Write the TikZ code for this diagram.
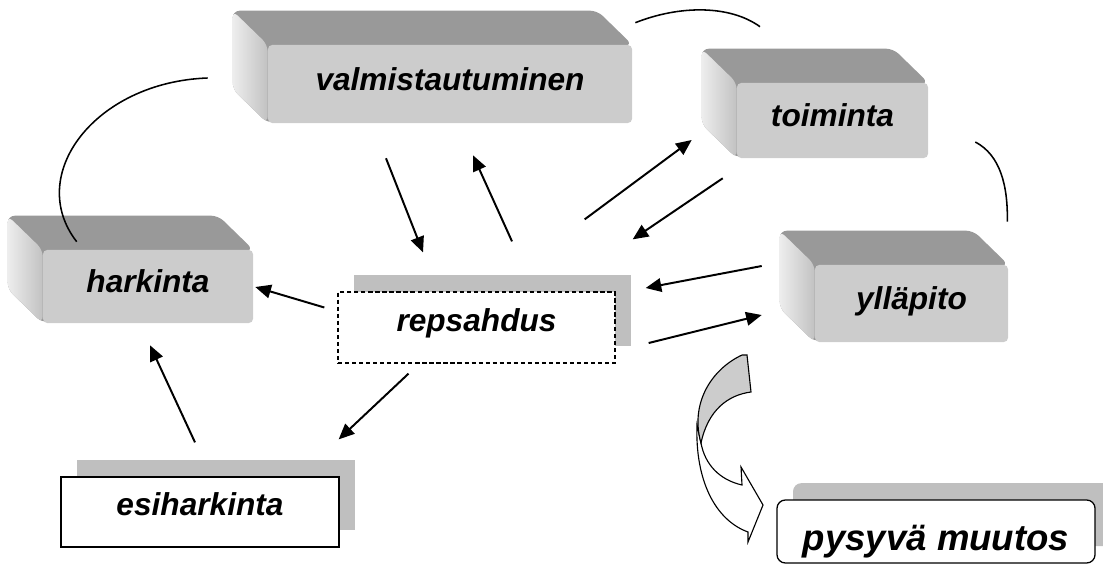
\documentclass[tikz,border=0pt]{standalone}
\usepackage{fontspec}
\setmainfont{Liberation Sans}
\usetikzlibrary{arrows.meta,calc,shadows,backgrounds}

\begin{document}
\begin{tikzpicture}[x=0.025cm, y=-0.025cm,
	stage/.style = {fill=black!20, rounded corners=3pt, inner sep=0pt, font=\bfseries\itshape\fontsize{22.5}{27}\selectfont, text height=16.2pt, text depth=7.2pt},
	flat/.style = {fill=white, draw=black, line width=0.9pt, inner sep=0pt, font=\bfseries\itshape\fontsize{22.5}{27}\selectfont, text height=15.3pt, text depth=9.7pt, drop shadow={shadow xshift=11.4pt, shadow yshift=12pt, fill=black!25, opacity=1}},
	arr/.style = {line width=1.4pt, -{Triangle[length=3.9mm, width=3.4mm]}},
	link/.style = {line width=1.1pt}]

	\useasboundingbox (0,0) rectangle (1103,565);

	\node[stage, minimum width=9.1cm, minimum height=1.95cm] (valm) at (450,84) {valmistautuminen};
	\node[stage, minimum width=4.775cm, minimum height=1.875cm] (toim) at (832.5,120.5) {toiminta};
	\node[stage, minimum width=5.25cm, minimum height=1.825cm] (hark) at (148,286.5) {harkinta};
	\node[stage, minimum width=4.825cm, minimum height=1.925cm] (yll) at (911.5,303.5) {ylläpito};

	\node[flat, dash pattern=on 3pt off 2pt, minimum width=6.925cm, minimum height=1.775cm] (rep) at (476.5,327.5) {repsahdus};
	\node[flat, minimum width=6.95cm, minimum height=1.75cm] (esi) at (200,512) {esiharkinta};
	\node[flat, rounded corners=6pt, minimum width=7.95cm, minimum height=1.575cm, font=\bfseries\itshape\fontsize{26}{31}\selectfont, text height=31.2pt, text depth=4.2pt] (pys) at (936,531.5) {pysyvä muutos};

	% sides of the blocks
	\begin{scope}[on background layer]
	\foreach \n in {valm,toim,hark,yll} {
		\fill[black!40, rounded corners=5pt] ($(\n.north west)+(-35,-34)$) -- ($(\n.north east)+(-35,-34)$) -- (\n.north east) -- (\n.south west) -- ($(\n.south west)+(-35,-34)$) -- cycle;
		\shade[left color=black!7, right color=black!24, rounded corners=5pt] ($(\n.north west)+(-35,-34)$) -- (\n.north west) -- (\n.south west) -- ($(\n.south west)+(-35,-34)$) -- cycle;
	}
	\end{scope}

	\draw[link] ($(valm.west)+(-60,-6)$) .. controls (95,82) and (25,175) .. ($(hark.north west)+(34,-8)$);
	\draw[link] ($(valm.north east)+(3,-22)$) .. controls (680,5) and (730,5) .. ($(toim.north)+(-72.5,-56)$);
	\draw[link] ($(toim.east)+(47,21.5)$) .. controls (1000,155) and (1008,185) .. ($(yll.north east)+(-1,-43)$);

	\draw[arr] ($(valm.south)+(-64,35)$) -- ($(rep.north)+(-53.5,-39)$);
	\draw[arr] ($(rep.north)+(35.5,-50)$) -- ($(valm.south)+(23,32)$);
	\draw[arr] ($(rep.north east)+(-31,-72)$) -- ($(toim.west)+(-45,19.5)$);
	\draw[arr] ($(toim.south west)+(-14,20)$) -- ($(rep.north east)+(17,-52)$);
	\draw[arr] ($(yll.west)+(-53,-37.5)$) -- ($(rep.east)+(30,-39.5)$);
	\draw[arr] ($(rep.east)+(33,15.5)$) -- ($(yll.west)+(-53,11.5)$);
	\draw[arr] ($(rep.west)+(-13,-20)$) -- ($(hark.east)+(2,0.5)$);
	\draw[arr] ($(rep.south)+(-68,10)$) -- ($(esi.north east)+(-1,-37)$);
	\draw[arr] ($(esi.north)+(-5,-34)$) -- ($(hark.south)+(2,22)$);

	% curved arrow down to pysyva muutos
	\filldraw[fill=white, line width=0.8pt] (701,443) .. controls (705,465) and (720,480) .. (742,485) -- (741,467) -- (763,505) -- (748,542) -- (748,532) .. controls (715,520) and (695,480) .. (697,425) -- cycle;
	\filldraw[fill=black!20, line width=0.8pt] (742,355) .. controls (710,370) and (690,405) .. (701,443) .. controls (708,410) and (728,395) .. (751,392) -- (747,355) -- cycle;

\end{tikzpicture}
\end{document}
